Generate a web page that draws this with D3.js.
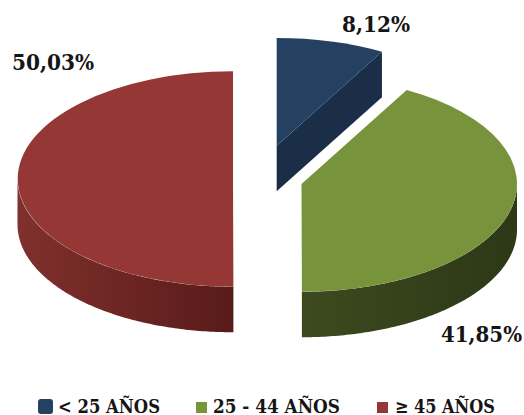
<!DOCTYPE html>
<html><head><meta charset="utf-8">
<script src="https://cdn.jsdelivr.net/npm/d3@7"></script>
<style>html,body{margin:0;padding:0;background:#fff}svg{display:block}
text{font-family:"DejaVu Serif",serif;font-stretch:condensed;font-weight:700;fill:#151515}</style></head>
<body><svg id="c" width="524" height="415"></svg>
<script>
const categories = ["< 25 AÑOS", "25 - 44 AÑOS", "≥ 45 AÑOS"];
const values = [8.12, 41.85, 50.03];
const valueLabels = ["8,12%", "41,85%", "50,03%"];
const topColors = ["#254162", "#77933c", "#953735"];
const sideColors = [["#1b2e48","#1b2e48"], ["#3d4a1e","#2d3816"], ["#80302d","#581b19"]];
const centers = [[276.7,145.7],[301.5,184],[233,179]];
const labelPos = [[342,32,68],[441,342,81],[12,70,82]];
const legendPos = [[38,399,15,58,102],[196,402,11,213,127],[377,402,11,395,100]];

const rx = 215.5, ratio = 0.5, depth = 45.5;
const svg = d3.select("#c");
const defs = svg.append("defs");
const pie = d3.pie().sort(null).value(d=>d).startAngle(0).endAngle(2*Math.PI);
const arcs = pie(values);
const arc = d3.arc().innerRadius(0).outerRadius(rx);
const px = a => rx*Math.sin(a), py = a => -rx*ratio*Math.cos(a);

sideColors.forEach((c,i)=>{
  const g = defs.append("linearGradient").attr("id","g"+i).attr("gradientUnits","objectBoundingBox");
  g.append("stop").attr("offset","0").attr("stop-color",c[0]);
  g.append("stop").attr("offset","1").attr("stop-color",c[1]);
});

arcs.forEach((d,i)=>{
  const gr = svg.append("g").attr("transform",`translate(${centers[i]})`);
  const a0 = Math.max(d.startAngle, Math.PI/2), a1 = Math.min(d.endAngle, 1.5*Math.PI);
  if (a1 > a0) {
    const ang = d3.range(0,121).map(k=>a0+(a1-a0)*k/120);
    const wall = d3.area().x(px).y0(py).y1(a=>py(a)+depth);
    gr.append("path").attr("d",wall(ang)).attr("fill",`url(#g${i})`);
  }
  if (d.endAngle < Math.PI/2) {
    const e = d.endAngle;
    const face = d3.area().x(a=>a*px(e)).y0(a=>a*py(e)).y1(a=>a*py(e)+depth);
    gr.append("path").attr("d",face([0,1])).attr("fill",sideColors[i][0]);
  }
  gr.append("path").attr("transform",`scale(1,${ratio})`).attr("d",arc(d)).attr("fill",topColors[i]);
});

valueLabels.forEach((t,i)=>{
  const [x,y,w] = labelPos[i];
  svg.append("text").attr("x",x).attr("y",y).attr("font-size",22)
    .attr("textLength",w).attr("lengthAdjust","spacingAndGlyphs").text(t);
});
categories.forEach((t,i)=>{
  const [x,y,s,tx,w] = legendPos[i];
  svg.append("rect").attr("x",x).attr("y",y).attr("width",s).attr("height",s).attr("rx",i===0?3:0).attr("fill",topColors[i]);
  svg.append("text").attr("x",tx).attr("y",413).attr("font-size",19)
    .attr("textLength",w).attr("lengthAdjust","spacingAndGlyphs").text(t);
});
</script></body></html>
